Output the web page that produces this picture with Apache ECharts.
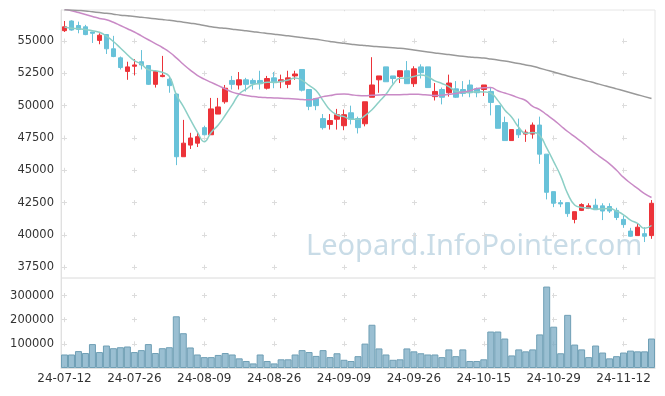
<!DOCTYPE html>
<html><head><meta charset="utf-8">
<script src="https://cdn.jsdelivr.net/npm/echarts@6/dist/echarts.min.js"></script>
<style>html,body{margin:0;padding:0;background:#fff}#c{width:665px;height:396px}</style>
</head><body><div id="c"></div>
<script>
const dates = ["24-07-12","24-07-15","24-07-16","24-07-17","24-07-18","24-07-19","24-07-22","24-07-23","24-07-24","24-07-25","24-07-26","24-07-29","24-07-30","24-07-31","24-08-01","24-08-02","24-08-05","24-08-06","24-08-07","24-08-08","24-08-09","24-08-12","24-08-13","24-08-14","24-08-16","24-08-19","24-08-20","24-08-21","24-08-22","24-08-23","24-08-26","24-08-27","24-08-28","24-08-29","24-08-30","24-09-02","24-09-03","24-09-04","24-09-05","24-09-06","24-09-09","24-09-10","24-09-11","24-09-12","24-09-13","24-09-19","24-09-20","24-09-23","24-09-24","24-09-25","24-09-26","24-09-27","24-09-30","24-10-02","24-10-04","24-10-07","24-10-08","24-10-10","24-10-11","24-10-14","24-10-15","24-10-16","24-10-17","24-10-18","24-10-21","24-10-22","24-10-23","24-10-24","24-10-25","24-10-28","24-10-29","24-10-30","24-10-31","24-11-01","24-11-04","24-11-05","24-11-06","24-11-07","24-11-08","24-11-11","24-11-12","24-11-13","24-11-14","24-11-15","24-11-18"];

const opens = [55800,56550,56200,56100,55700,55050,55500,54400,53700,52650,53050,53400,53100,51650,52250,52050,50900,46050,46950,47100,48300,47750,49350,50300,51950,51600,52000,51950,51950,51350,52150,51850,51650,52300,52800,51250,50550,49000,48550,48950,48450,49450,49000,48600,50650,52000,53000,52300,52250,52700,51700,53000,53000,50700,51250,51000,51300,51250,51600,51300,51250,51100,50000,48700,47300,48150,47800,47800,48500,46250,43350,42500,42500,41200,41900,42050,42300,42250,42200,41900,41200,40300,39950,40100,39950];
const closes = [56100,55850,55900,55500,55600,55450,54400,53800,52950,53000,53150,53150,51650,52650,52350,51550,46050,47100,47500,47600,47750,49750,49900,51350,51650,52000,51650,51700,51700,52100,51850,52000,52150,52450,51200,49950,50000,48300,48850,49300,49300,48950,48300,50300,51600,52300,51850,52100,52700,51700,52850,52550,51400,51100,50650,51750,50650,50950,51000,51000,51600,50250,48250,47300,48150,47750,47950,48500,46250,43300,42450,42400,41650,41800,42350,42250,41950,41850,41850,41350,40800,39900,40600,39900,42450];
const lows = [55700,55800,55600,55450,54850,54750,54000,53750,52800,52000,52350,52800,51600,51400,52200,51000,45400,46050,46650,46800,47700,47750,49350,50150,51250,51250,51100,51250,51250,51250,51350,51350,51350,52000,51100,49650,49650,48150,48150,48150,48100,48550,47850,48400,50650,51000,51850,51700,51750,51700,51450,52100,51400,50400,50100,50700,50600,50700,50650,50650,50750,49250,48250,47300,47300,47500,47200,47450,45500,42750,42150,42150,41400,40900,41850,42000,41950,41150,41700,41150,40550,39850,39950,39450,39700];
const highs = [56550,56600,56500,56250,55700,55600,55500,55400,53800,53400,53600,54300,53100,52750,53850,52300,50950,48900,47900,47900,48450,50600,50600,51600,52300,52600,52150,52100,52700,52300,52600,52400,52700,52700,52800,51250,50550,49350,49350,49750,49700,50000,49150,50300,53750,52300,53000,52300,52700,53450,53050,53200,53000,51750,51400,52400,51900,51900,52000,51400,51600,51400,50000,49150,48150,49000,48150,48700,49150,46250,43350,42700,42500,41800,42450,42450,42800,42450,42450,42100,41500,40550,40900,40600,42700];
const volumes = [56000,56000,70000,62000,99000,66000,93000,82000,86000,89000,66000,74000,99000,62000,82000,86000,214000,144000,85000,56000,45000,45000,54000,62000,56000,40000,29000,19000,56000,29000,19000,36000,36000,56000,74000,66000,50000,74000,45000,61000,34000,29000,49000,101000,179000,81000,56000,34000,36000,81000,69000,61000,56000,56000,45000,77000,49000,77000,29000,29000,36000,151000,151000,122000,52000,77000,69000,77000,139000,337000,171000,61000,220000,97000,77000,45000,93000,64000,40000,49000,64000,72000,69000,69000,122000];
const ma5 = [56080,55980,55950,55900,55800,55680,55380,54960,54460,53940,53480,53220,52780,52700,52580,52260,50850,49950,48940,47980,47210,47950,48510,49260,50060,50910,51280,51640,51720,51820,51800,51880,51980,52140,51960,51570,51170,50390,49660,49280,49150,48940,48940,49230,49690,50290,50880,51640,52120,52140,52260,52380,52240,51920,51720,51480,51120,51040,51020,51080,51060,50960,50410,49670,49100,48330,47870,47920,47700,46730,45670,44570,43200,42320,42130,42080,41990,42030,42040,41840,41560,41150,40900,40510,40730];
const ma20 = [57450,57350,57200,57050,56900,56750,56650,56450,56200,55950,55700,55400,55100,54800,54500,54150,53700,53200,52750,52350,52050,51800,51550,51300,51050,50900,50780,50700,50650,50620,50600,50570,50550,50520,50480,50450,50550,50700,50780,50880,50900,50850,50780,50760,50800,50830,50840,50850,50850,50870,50890,50860,50820,50780,50800,50880,50950,51050,51150,51330,51380,51400,51150,50980,50800,50600,50400,49950,49700,49300,48900,48450,48000,47600,47200,46750,46300,45900,45500,45000,44450,44000,43600,43200,42900];
const ma120 = [57420,57400,57370,57330,57260,57200,57150,57080,57000,56950,56900,56840,56780,56720,56660,56600,56530,56460,56380,56300,56200,56100,56030,55980,55920,55860,55790,55720,55650,55590,55530,55470,55400,55340,55270,55200,55140,55050,54960,54880,54820,54760,54700,54650,54600,54560,54520,54480,54440,54380,54300,54230,54150,54080,54010,53950,53880,53820,53770,53720,53680,53610,53530,53450,53360,53260,53150,53050,52900,52750,52600,52450,52300,52160,52020,51880,51740,51590,51450,51300,51150,51000,50850,50700,50550];
const priceTicks = [37500,40000,42500,45000,47500,50000,52500,55000];
const volumeTicks = [100000,200000,300000];

const candles = opens.map((o, i) => [o, closes[i], lows[i], highs[i]]);
const FONT = 'DejaVu Sans';
const crossColor = '#dcdcdc';
const plain = v => String(v);

const chart = echarts.init(document.getElementById('c'), null, {renderer: 'canvas'});
chart.setOption({
  animation: false,
  backgroundColor: '#ffffff',
  grid: [
    {left: 61, right: 10, top: 10, height: 268, show: true, borderColor: '#e6e6e6', borderWidth: 1, backgroundColor: 'transparent'},
    {left: 61, right: 10, top: 278, height: 90, show: true, borderColor: '#e6e6e6', borderWidth: 1, backgroundColor: 'transparent'}
  ],
  xAxis: [
    {type: 'category', gridIndex: 0, data: dates, boundaryGap: true,
     axisLine: {show: false}, axisTick: {show: false}, axisLabel: {show: false},
     splitLine: {show: true, interval: 9, alignWithLabel: true,
       lineStyle: {color: crossColor, width: 1, type: [5, 27.32], dashOffset: 3.79}}},
    {type: 'category', gridIndex: 1, data: dates, boundaryGap: true,
     axisLine: {show: true, lineStyle: {color: '#e0e0e0'}}, axisTick: {show: false},
     axisLabel: {interval: 9, color: '#333', fontFamily: FONT, fontSize: 12, margin: 5},
     splitLine: {show: true, interval: 9, alignWithLabel: true,
       lineStyle: {color: crossColor, width: 1, type: [5, 19.16], dashOffset: 9.14}}}
  ],
  yAxis: [
    {type: 'value', gridIndex: 0, min: 36670, max: 57400, scale: true,
     axisLine: {show: true, lineStyle: {color: '#e0e0e0'}},
     axisTick: {show: false, customValues: priceTicks},
     axisLabel: {customValues: priceTicks, formatter: plain, color: '#333', fontFamily: FONT, fontSize: 11.5, margin: 7},
     splitLine: {show: true, lineStyle: {color: crossColor, width: 1, type: [5, 65], dashOffset: 69}}},
    {type: 'value', gridIndex: 1, min: 0, max: 372500,
     axisLine: {show: true, lineStyle: {color: '#e0e0e0'}},
     axisTick: {show: false, customValues: volumeTicks},
     axisLabel: {customValues: volumeTicks, formatter: plain, color: '#333', fontFamily: FONT, fontSize: 11.5, margin: 7},
     splitLine: {show: true, lineStyle: {color: crossColor, width: 1, type: [5, 65], dashOffset: 69}}}
  ],
  graphic: [{
    type: 'text', left: 306, top: 232, silent: true, z: 0,
    style: {text: 'Leopard.InfoPointer.com', font: '29px "Noto Sans"', fill: '#c9dce7'}
  }],
  series: [
    {type: 'candlestick', xAxisIndex: 0, yAxisIndex: 0, data: candles, barWidth: 5,
     itemStyle: {color: '#ec3339', color0: '#68c2d9', borderColor: '#ec3339', borderColor0: '#68c2d9', borderWidth: 1}},
    {type: 'line', name: 'MA5', xAxisIndex: 0, yAxisIndex: 0, data: ma5, smooth: true, showSymbol: false,
     lineStyle: {color: '#8ccfc6', width: 1.5}, z: 3},
    {type: 'line', name: 'MA20', xAxisIndex: 0, yAxisIndex: 0, data: ma20, smooth: true, showSymbol: false,
     lineStyle: {color: '#c98ac6', width: 1.5}, z: 3},
    {type: 'line', name: 'MA120', xAxisIndex: 0, yAxisIndex: 0, data: ma120, smooth: true, showSymbol: false,
     lineStyle: {color: '#999999', width: 1.5}, z: 3},
    {type: 'bar', xAxisIndex: 1, yAxisIndex: 1, data: volumes, barWidth: '100%', barCategoryGap: 0,
     itemStyle: {color: 'rgba(120,170,195,0.75)', borderColor: '#6f9fb5', borderWidth: 1}}
  ]
});
</script></body></html>
